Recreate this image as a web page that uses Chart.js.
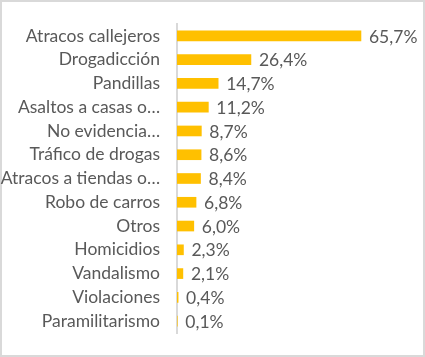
<!DOCTYPE html>
<html>
<head>
<meta charset="utf-8">
<script src="https://cdn.jsdelivr.net/npm/chart.js@4"></script>
<style>
html,body{margin:0;padding:0;background:#fff;}
#wrap{position:relative;width:425px;height:357px;box-sizing:border-box;border:2px solid #D9D9D9;}
canvas{position:absolute;left:-2px;top:-2px;}
</style>
</head>
<body>
<div id="wrap"><canvas id="c" width="425" height="357"></canvas></div>
<script>
const categories = ["Atracos callejeros","Drogadicción","Pandillas","Asaltos a casas o…","No evidencia…","Tráfico de drogas","Atracos a tiendas o…","Robo de carros","Otros","Homicidios","Vandalismo","Violaciones","Paramilitarismo"];
const values = [65.7,26.4,14.7,11.2,8.7,8.6,8.4,6.8,6.0,2.3,2.1,0.4,0.1];

const FONT = "Lato, 'Open Sans', sans-serif";
const TEXT = "#595959";
const FSIZE = 17.5;

const labelPlugin = {
  id: 'barLabels',
  afterDatasetsDraw(chart) {
    const ctx = chart.ctx;
    const meta = chart.getDatasetMeta(0);
    ctx.save();
    ctx.font = FSIZE + "px " + FONT;
    ctx.fillStyle = TEXT;
    ctx.textAlign = 'left';
    ctx.textBaseline = 'middle';
    meta.data.forEach((bar, i) => {
      const v = values[i];
      const txt = v.toFixed(1).replace('.', ',') + '%';
      ctx.fillText(txt, bar.x + 8, bar.y + 1);
    });
    ctx.restore();
  }
};

new Chart(document.getElementById('c'), {
  type: 'bar',
  data: {
    labels: categories,
    datasets: [{
      data: values,
      backgroundColor: '#FFC000',
      borderWidth: 0,
      barThickness: 10
    }]
  },
  options: {
    indexAxis: 'y',
    responsive: false,
    animation: false,
    events: [],
    layout: { padding: { top: 24, bottom: 24, right: 24, left: 0 } },
    plugins: { legend: { display: false }, tooltip: { enabled: false } },
    scales: {
      x: {
        display: false,
        min: 0,
        max: 80
      },
      y: {
        afterFit(scale) { scale.width = 177; },
        grid: { display: false },
        border: { display: true, color: '#D9D9D9', width: 2 },
        ticks: {
          color: TEXT,
          padding: 9,
          font: { family: FONT, size: FSIZE },
          autoSkip: false
        }
      }
    }
  },
  plugins: [labelPlugin]
});
</script>
</body>
</html>
